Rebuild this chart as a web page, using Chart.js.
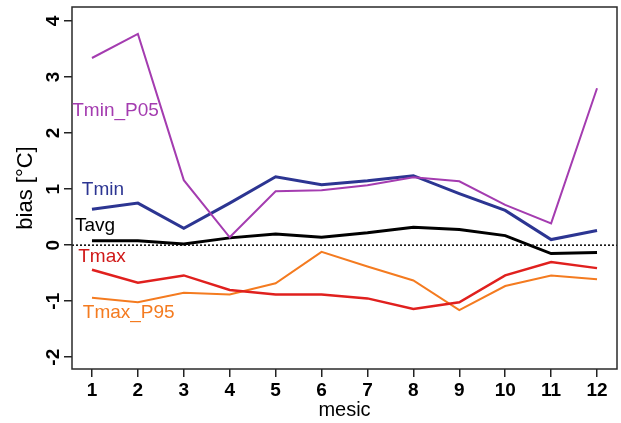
<!DOCTYPE html>
<html>
<head>
<meta charset="utf-8">
<script src="https://cdn.jsdelivr.net/npm/chart.js@4/dist/chart.umd.min.js"></script>
<style>
  html, body { margin: 0; padding: 0; background: #fff; }
  #wrap { width: 621px; height: 423px; }
</style>
</head>
<body>
<div id="wrap"><canvas id="myChart"></canvas></div>
<script>
// months 1..12
const months = [1, 2, 3, 4, 5, 6, 7, 8, 9, 10, 11, 12];
const yTicks = [-2, -1, 0, 1, 2, 3, 4];

// monthly bias [°C]
const tminP05 = [3.34, 3.77, 1.16, 0.14, 0.96, 0.98, 1.07, 1.21, 1.14, 0.72, 0.39, 2.80];
const tmin    = [0.64, 0.75, 0.30, 0.75, 1.22, 1.08, 1.15, 1.24, 0.92, 0.62, 0.10, 0.26];
const tavg    = [0.08, 0.08, 0.02, 0.13, 0.20, 0.14, 0.22, 0.32, 0.28, 0.17, -0.15, -0.13];
const tmax    = [-0.44, -0.67, -0.54, -0.80, -0.88, -0.88, -0.95, -1.14, -1.02, -0.54, -0.30, -0.41];
const tmaxP95 = [-0.94, -1.02, -0.85, -0.88, -0.68, -0.12, -0.38, -0.63, -1.16, -0.73, -0.54, -0.61];

const FONT = "'Liberation Sans', Arial, sans-serif";

function toPoints(values) {
  return months.map((m, i) => ({x: m, y: values[i]}));
}

function series(label, values, color, width) {
  return {
    label: label,
    data: toPoints(values),
    borderColor: color,
    backgroundColor: color,
    borderWidth: width,
    pointRadius: 0,
    tension: 0,
    fill: false
  };
}

// plot box, dotted zero line and the series names written inside the plot
const annotate = {
  id: 'annotate',
  beforeDatasetsDraw(chart) {
    const {ctx, chartArea: a, scales: {y}} = chart;
    const y0 = y.getPixelForValue(0);
    ctx.save();
    ctx.strokeStyle = '#000';
    ctx.lineWidth = 1.5;
    ctx.setLineDash([2, 2]);
    ctx.beginPath();
    ctx.moveTo(a.left, y0);
    ctx.lineTo(a.right, y0);
    ctx.stroke();
    ctx.restore();
  },
  afterDraw(chart, args, opts) {
    const {ctx, chartArea: a, scales: {x, y}} = chart;
    ctx.save();
    ctx.strokeStyle = '#2a2a2a';
    ctx.lineWidth = 1.5;
    ctx.strokeRect(a.left, a.top, a.right - a.left, a.bottom - a.top);
    ctx.font = '19px ' + FONT;
    ctx.textAlign = 'left';
    ctx.textBaseline = 'middle';
    opts.labels.forEach(l => {
      ctx.fillStyle = l.color;
      ctx.fillText(l.text, x.getPixelForValue(l.x), y.getPixelForValue(l.y));
    });
    ctx.restore();
  }
};

const PURPLE = '#a43cb0';
const BLUE = '#2c3592';
const BLACK = '#000000';
const RED = '#e0201e';
const ORANGE = '#f47b20';

new Chart(document.getElementById('myChart').getContext('2d'), {
  type: 'line',
  data: {
    datasets: [
      series('Tmin_P05', tminP05, PURPLE, 2),
      series('Tmin', tmin, BLUE, 3),
      series('Tavg', tavg, BLACK, 3),
      series('Tmax', tmax, RED, 2.5),
      series('Tmax_P95', tmaxP95, ORANGE, 2)
    ]
  },
  options: {
    responsive: true,
    maintainAspectRatio: false,
    animation: false,
    layout: {padding: {top: 7, right: 4, left: 0, bottom: 0}},
    plugins: {
      legend: {display: false},
      tooltip: {enabled: false},
      annotate: {
        labels: [
          {text: 'Tmin_P05', color: PURPLE, x: 0.57, y: 2.39},
          {text: 'Tmin', color: BLUE, x: 0.78, y: 0.98},
          {text: 'Tavg', color: BLACK, x: 0.63, y: 0.34},
          {text: 'Tmax', color: '#d01818', x: 0.70, y: -0.21},
          {text: 'Tmax_P95', color: ORANGE, x: 0.80, y: -1.21}
        ]
      }
    },
    scales: {
      x: {
        type: 'linear',
        min: 0.565,
        max: 12.435,
        afterBuildTicks: s => { s.ticks = months.map(v => ({value: v})); },
        afterFit: s => { s.height = 54; s.paddingLeft = 0; s.paddingRight = 0; },
        grid: {drawOnChartArea: false, drawTicks: true, tickLength: 8, color: '#222', lineWidth: 1.5},
        border: {display: false},
        ticks: {
          color: '#000',
          padding: 2,
          maxRotation: 0,
          font: {family: FONT, size: 19, weight: 'bold'}
        },
        title: {
          display: true,
          text: 'mesic',
          color: '#000',
          font: {family: FONT, size: 20},
          padding: {top: 0, bottom: 1}
        }
      },
      y: {
        type: 'linear',
        min: -2.21,
        max: 4.25,
        afterBuildTicks: s => { s.ticks = yTicks.map(v => ({value: v})); },
        afterFit: s => { s.width = 72; s.paddingTop = 0; s.paddingBottom = 0; },
        grid: {drawOnChartArea: false, drawTicks: true, tickLength: 8, color: '#222', lineWidth: 1.5},
        border: {display: false},
        ticks: {
          color: '#000',
          padding: 2,
          minRotation: 90,
          maxRotation: 90,
          crossAlign: 'center',
          font: {family: FONT, size: 19, weight: 'bold'}
        },
        title: {
          display: true,
          text: 'bias [°C]',
          color: '#000',
          font: {family: FONT, size: 22},
          padding: {top: 13, bottom: 0}
        }
      }
    }
  },
  plugins: [annotate]
});
</script>
</body>
</html>
